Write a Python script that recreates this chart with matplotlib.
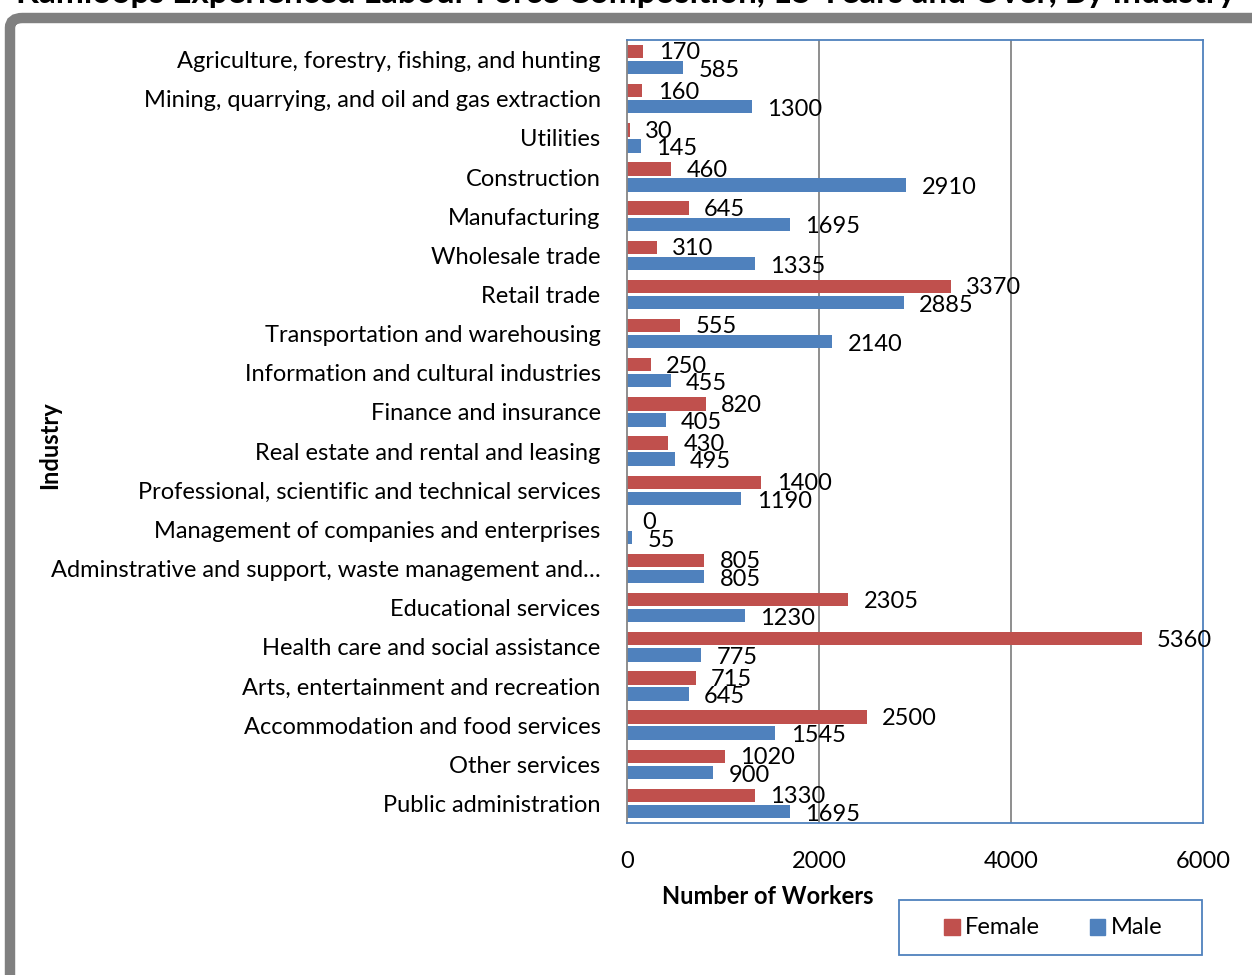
import matplotlib
matplotlib.use("Agg")
import matplotlib.pyplot as plt
from matplotlib.patches import FancyBboxPatch, Rectangle
import numpy as np

plt.rcParams['font.family'] = ['Lato', 'DejaVu Sans']

industries = [
    "Agriculture, forestry, fishing, and hunting",
    "Mining, quarrying, and oil and gas extraction",
    "Utilities",
    "Construction",
    "Manufacturing",
    "Wholesale trade",
    "Retail trade",
    "Transportation and warehousing",
    "Information and cultural industries",
    "Finance and insurance",
    "Real estate and rental and leasing",
    "Professional, scientific and technical services",
    "Management of companies and enterprises",
    "Adminstrative and support, waste management and\u2026",
    "Educational services",
    "Health care and social assistance",
    "Arts, entertainment and recreation",
    "Accommodation and food services",
    "Other services",
    "Public administration",
]
female = [170, 160, 30, 460, 645, 310, 3370, 555, 250, 820,
          430, 1400, 0, 805, 2305, 5360, 715, 2500, 1020, 1330]
male = [585, 1300, 145, 2910, 1695, 1335, 2885, 2140, 455, 405,
        495, 1190, 55, 805, 1230, 775, 645, 1545, 900, 1695]
xticks = [0, 2000, 4000, 6000]

title = "Kamloops Experienced Labour Force Composition, 15 Years and Over, By Industry"

red = "#C0504D"
blue = "#4F81BD"
grey = "#868686"
fs = 17

fig = plt.figure(figsize=(12.52, 9.75), dpi=100)

# outer chart border (grey, rounded, runs off right and bottom edges)
border = FancyBboxPatch((10 / 1252, -0.2), 1.3, 1.2 - 18 / 975,
                        boxstyle="round,pad=0,rounding_size=0.01",
                        transform=fig.transFigure, fill=False,
                        edgecolor="#808080", linewidth=7.5, zorder=0)
fig.patches.append(border)

# title, mostly cut off at top
fig.text(0.5, 1 - 3 / 975, title, ha="center", va="baseline",
         fontsize=24, fontweight="bold")

ax = fig.add_axes([627 / 1252, 1 - 823 / 975, 576 / 1252, 783 / 975])

y = np.arange(len(industries))
h = 0.34
ax.barh(y - 0.205, female, height=h, color=red, label="Female", zorder=2)
ax.barh(y + 0.205, male, height=h, color=blue, label="Male", zorder=2)

for i in range(len(industries)):
    ax.annotate(str(female[i]), (female[i], y[i] - 0.205), xytext=(11, -1),
                textcoords="offset points", ha="left", va="center",
                fontsize=fs, zorder=3)
    ax.annotate(str(male[i]), (male[i], y[i] + 0.205), xytext=(11, -2),
                textcoords="offset points", ha="left", va="center",
                fontsize=fs, zorder=3)

ax.set_xlim(0, 6000)
ax.set_ylim(len(industries) - 0.5, -0.5)
ax.set_xticks(xticks)
ax.set_xticklabels([str(t) for t in xticks])
ax.set_yticks(y)
ax.set_yticklabels(industries)
ax.tick_params(axis="x", length=0, pad=20, labelsize=fs)
ax.tick_params(axis="y", length=0, pad=19, labelsize=fs)

for t in [2000, 4000]:
    ax.axvline(t, color=grey, linewidth=1.3, zorder=1)

for s in ["top", "right", "bottom"]:
    ax.spines[s].set_color(blue)
    ax.spines[s].set_linewidth(1.3)
ax.spines["left"].set_color(grey)
ax.spines["left"].set_linewidth(1.3)

fig.text(768 / 1252, 1 - 897 / 975, "Number of Workers", ha="center",
         va="center", fontsize=fs, fontweight="bold")
fig.text(50 / 1252, 1 - 445 / 975, "Industry", ha="center", va="center",
         rotation=90, fontsize=fs, fontweight="bold")

# legend box
fig.patches.append(Rectangle((899 / 1252, 1 - 955 / 975), 303 / 1252, 55 / 975,
                             transform=fig.transFigure, fill=False,
                             edgecolor=blue, linewidth=1.3))
leg_y = 1 - 927 / 975
fig.patches.append(Rectangle((944 / 1252, leg_y - 8 / 975), 16 / 1252, 16 / 975,
                             transform=fig.transFigure, color=red))
fig.text(965 / 1252, leg_y, "Female", ha="left", va="center", fontsize=fs)
fig.patches.append(Rectangle((1090 / 1252, leg_y - 8 / 975), 15 / 1252, 16 / 975,
                             transform=fig.transFigure, color=blue))
fig.text(1111 / 1252, leg_y, "Male", ha="left", va="center", fontsize=fs)

fig.savefig("out.png", dpi=100)
